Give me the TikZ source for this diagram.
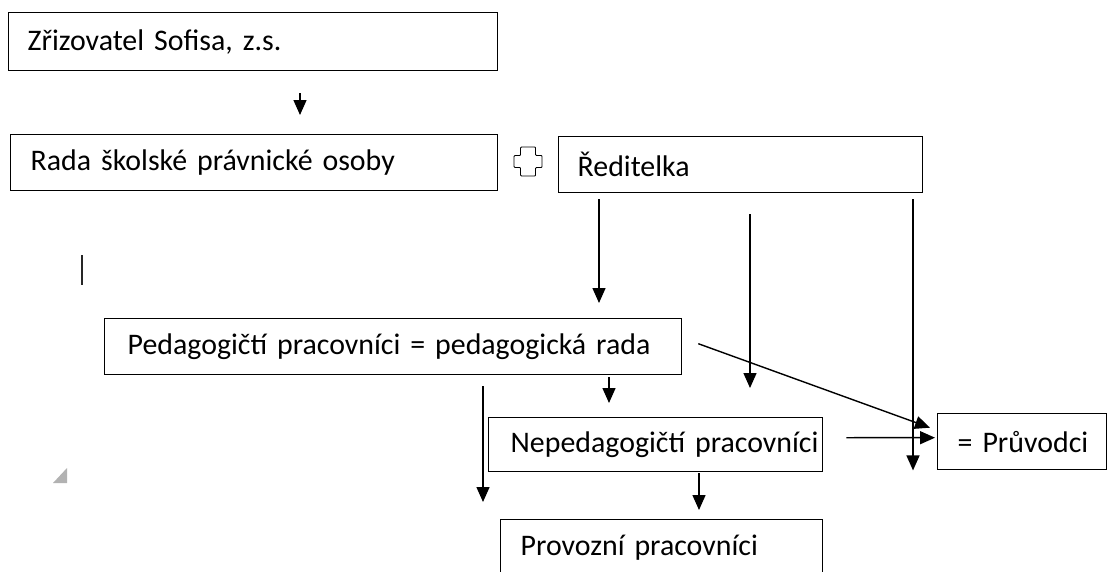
\documentclass[tikz,border=0pt]{standalone}
\usepackage{fontspec}
\setmainfont{Carlito}
\usetikzlibrary{arrows.meta}

\begin{document}
\begin{tikzpicture}[x=0.02cm, y=-0.02cm, line width=0.8pt,
    box/.style = {draw, anchor=north west, align=left, inner xsep=0pt, inner ysep=0pt,
                  font=\fontsize{17}{20}\selectfont, execute at begin node={\hspace*{#1}}},
    arr/.style = {-{Triangle[width=0.26cm, length=0.30cm]}}]
    \useasboundingbox (0,0) rectangle (1108,571);
    \clip (0,0) rectangle (1108,571);

    % boxes
    \node[box=0.38cm, minimum height=1.16cm, text width=9.78cm] (zriz)  at (8,12)    {Zřizovatel Sofisa, z.s.};
    \node[box=0.40cm, minimum height=1.12cm, text width=9.74cm] (rada)  at (10,134)  {Rada školské právnické osoby};
    \node[box=0.38cm, minimum height=1.12cm, text width=7.28cm] (red)   at (558,136) {Ředitelka};
    \node[box=0.46cm, minimum height=1.12cm, text width=11.54cm] (ped)  at (104,318) {Pedagogičtí pracovníci = pedagogická rada};
    \node[box=0.44cm, minimum height=1.08cm, text width=6.68cm] (neped) at (488,417) {Nepedagogičtí pracovníci};
    \node[box=0.40cm, minimum height=1.12cm, text width=3.38cm] (pruv)  at (937,413) {= Průvodci};
    \node[box=0.40cm, minimum height=1.12cm, text width=6.44cm] (prov)  at (500,519) {Provozní pracovníci};

    % x positions of the vertical arrows
    \coordinate (xa) at (300,0);
    \coordinate (xb) at (599,0);
    \coordinate (xc) at (750,0);
    \coordinate (xd) at (913,0);
    \coordinate (xe) at (609,0);
    \coordinate (xf) at (483,0);
    \coordinate (xg) at (699,0);

    \draw[arr, shorten <=0.44cm, shorten >=0.38cm] (zriz.south -| xa) to (rada.north -| xa);

    \draw[arr, shorten <=0.12cm, shorten >=0.30cm] (red.south -| xb) to (ped.north -| xb);
    \draw[arr, shorten <=0.42cm, shorten >=0.58cm] (red.south -| xc) to (neped.north -| xc);
    \draw[arr, shorten <=0.12cm] (red.south -| xd) to (pruv.south -| xd);

    \draw[arr] ([shift={(16,-3)}]ped.east) to ([shift={(-7,-14)}]pruv.west);
    \draw[arr, shorten <=0.04cm, shorten >=0.28cm] (ped.south -| xe) to (neped.north -| xe);
    \draw[arr, shorten <=0.22cm, shorten >=0.34cm] (ped.south -| xf) to (prov.north -| xf);

    \draw[arr] ([shift={(23,-7)}]neped.east) to ([shift={(-2,-4)}]pruv.west);
    \draw[arr, shorten <=0.02cm, shorten >=0.18cm] (neped.south -| xg) to (prov.north -| xg);

    % the plus sign between the two boxes
    \draw[line width=0.5pt, rounded corners=0.5pt, shift={(528,161.5)}]
        (-7.5,-14.5) -- (7.5,-14.5) -- (7.5,-6) -- (14,-6) -- (14,6) -- (7.5,6)
        -- (7.5,14.5) -- (-7.5,14.5) -- (-7.5,6) -- (-14,6) -- (-14,-6) -- (-7.5,-6) -- cycle;

    % stray marks
    \draw[line width=1pt, black!85] (82,255) -- (82,285);
    \fill[black!30] (53,483) -- (67,468) -- (67,483) -- cycle;
\end{tikzpicture}
\end{document}
